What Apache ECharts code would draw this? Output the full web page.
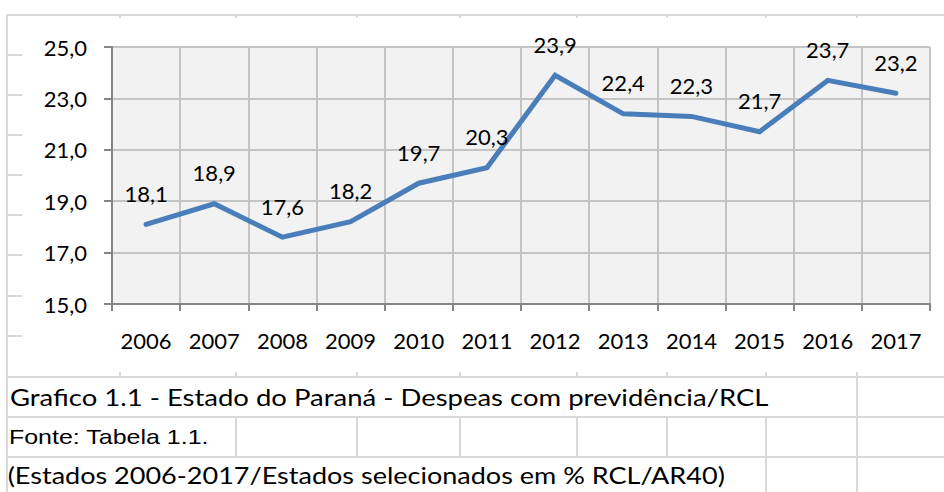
<!DOCTYPE html>
<html>
<head>
<meta charset="utf-8">
<script src="https://cdn.jsdelivr.net/npm/echarts@6/dist/echarts.min.js"></script>
<style>
  html, body { margin: 0; padding: 0; background: #ffffff; }
  #chart { width: 944px; height: 492px; }
</style>
</head>
<body>
<div id="chart"></div>
<script>
// ---- data ----
var years = ['2006','2007','2008','2009','2010','2011','2012','2013','2014','2015','2016','2017'];
var values = [18.1, 18.9, 17.6, 18.2, 19.7, 20.3, 23.9, 22.4, 22.3, 21.7, 23.7, 23.2];
var yTicks = [15, 17, 19, 21, 23, 25];
var captionTitle = 'Grafico 1.1 - Estado do Paraná - Despeas com previdência/RCL';
var captionSource = 'Fonte: Tabela 1.1.';
var captionNote = '(Estados 2006-2017/Estados selecionados em % RCL/AR40)';

// ---- spreadsheet decoration ----
var cellColor = '#d9d9d9';
var gfx = [];
function hline(x1, x2, y) {
  gfx.push({ type: 'line', silent: true, shape: { x1: x1, y1: y, x2: x2, y2: y },
             style: { stroke: cellColor, lineWidth: 2 } });
}
function vline(x, y1, y2) {
  gfx.push({ type: 'line', silent: true, shape: { x1: x, y1: y1, x2: x, y2: y2 },
             style: { stroke: cellColor, lineWidth: 2 } });
}
// outer top line and left border
hline(7, 944, 15);
vline(7, 15, 492);
// row lines peeking at the left of the chart object
[55, 95, 135, 175, 215, 255, 296, 336].forEach(function (y) { hline(7, 22, y); });
// column ticks peeking above the chart object
[120, 236, 357, 460, 577, 667, 766, 857].forEach(function (x) { vline(x, 15, 18); });
// caption rows
hline(7, 944, 377);
hline(7, 944, 417);
hline(7, 944, 457);
[120, 236, 357, 460, 577, 667, 766].forEach(function (x) { vline(x, 372, 377); });
vline(857, 372, 492);
[236, 357, 460, 577, 667, 766].forEach(function (x) { vline(x, 417, 457); });
vline(766, 457, 492);

function caption(text, x, y, family, size, sx) {
  gfx.push({ type: 'text', silent: true, x: x, y: y, scaleX: sx, originX: x, originY: y,
    style: { text: text, fontFamily: family, fontSize: size, fill: '#000',
             align: 'left', verticalAlign: 'middle' } });
}
caption(captionTitle, 12, 397, 'Lato', 23.5, 1.17);
caption(captionSource, 11, 437, 'Liberation Sans', 21, 1.19);
caption(captionNote, 9, 475, 'Lato', 23.5, 1.15);

function fmt(v) { return Number(v).toFixed(1).replace('.', ','); }

var chart = echarts.init(document.getElementById('chart'), null, { renderer: 'svg' });
chart.setOption({
  animation: false,
  backgroundColor: '#ffffff',
  textStyle: { fontFamily: 'Lato' },
  grid: {
    left: 112, right: 14, top: 47, bottom: 188,
    show: true, backgroundColor: '#f2f2f2', borderWidth: 0
  },
  xAxis: {
    type: 'category',
    data: years,
    boundaryGap: true,
    axisLine: { lineStyle: { color: '#868686', width: 2 } },
    axisTick: { show: true, length: 7, lineStyle: { color: '#868686', width: 2 } },
    axisLabel: { color: '#000', fontFamily: 'Lato', fontSize: 22, margin: 25 },
    splitLine: { show: true, lineStyle: { color: '#c4c4c4', width: 2 } }
  },
  yAxis: {
    type: 'value',
    min: yTicks[0],
    max: yTicks[yTicks.length - 1],
    interval: 2,
    axisLine: { show: true, lineStyle: { color: '#868686', width: 2 } },
    axisTick: { show: true, length: 8, lineStyle: { color: '#868686', width: 2 } },
    axisLabel: { color: '#000', fontFamily: 'Lato', fontSize: 22, margin: 25, formatter: fmt },
    splitLine: { show: true, lineStyle: { color: '#c4c4c4', width: 2 } }
  },
  series: [{
    type: 'line',
    data: values,
    symbol: 'circle',
    symbolSize: 2,
    itemStyle: { color: '#4A7EBB' },
    lineStyle: { color: '#4A7EBB', width: 5, cap: 'round', join: 'miter' },
    label: {
      show: true, position: 'top', distance: 18,
      color: '#000', fontFamily: 'Lato', fontSize: 22, lineHeight: 24,
      formatter: function (p) { return fmt(p.value); }
    }
  }],
  graphic: gfx
});
</script>
</body>
</html>
